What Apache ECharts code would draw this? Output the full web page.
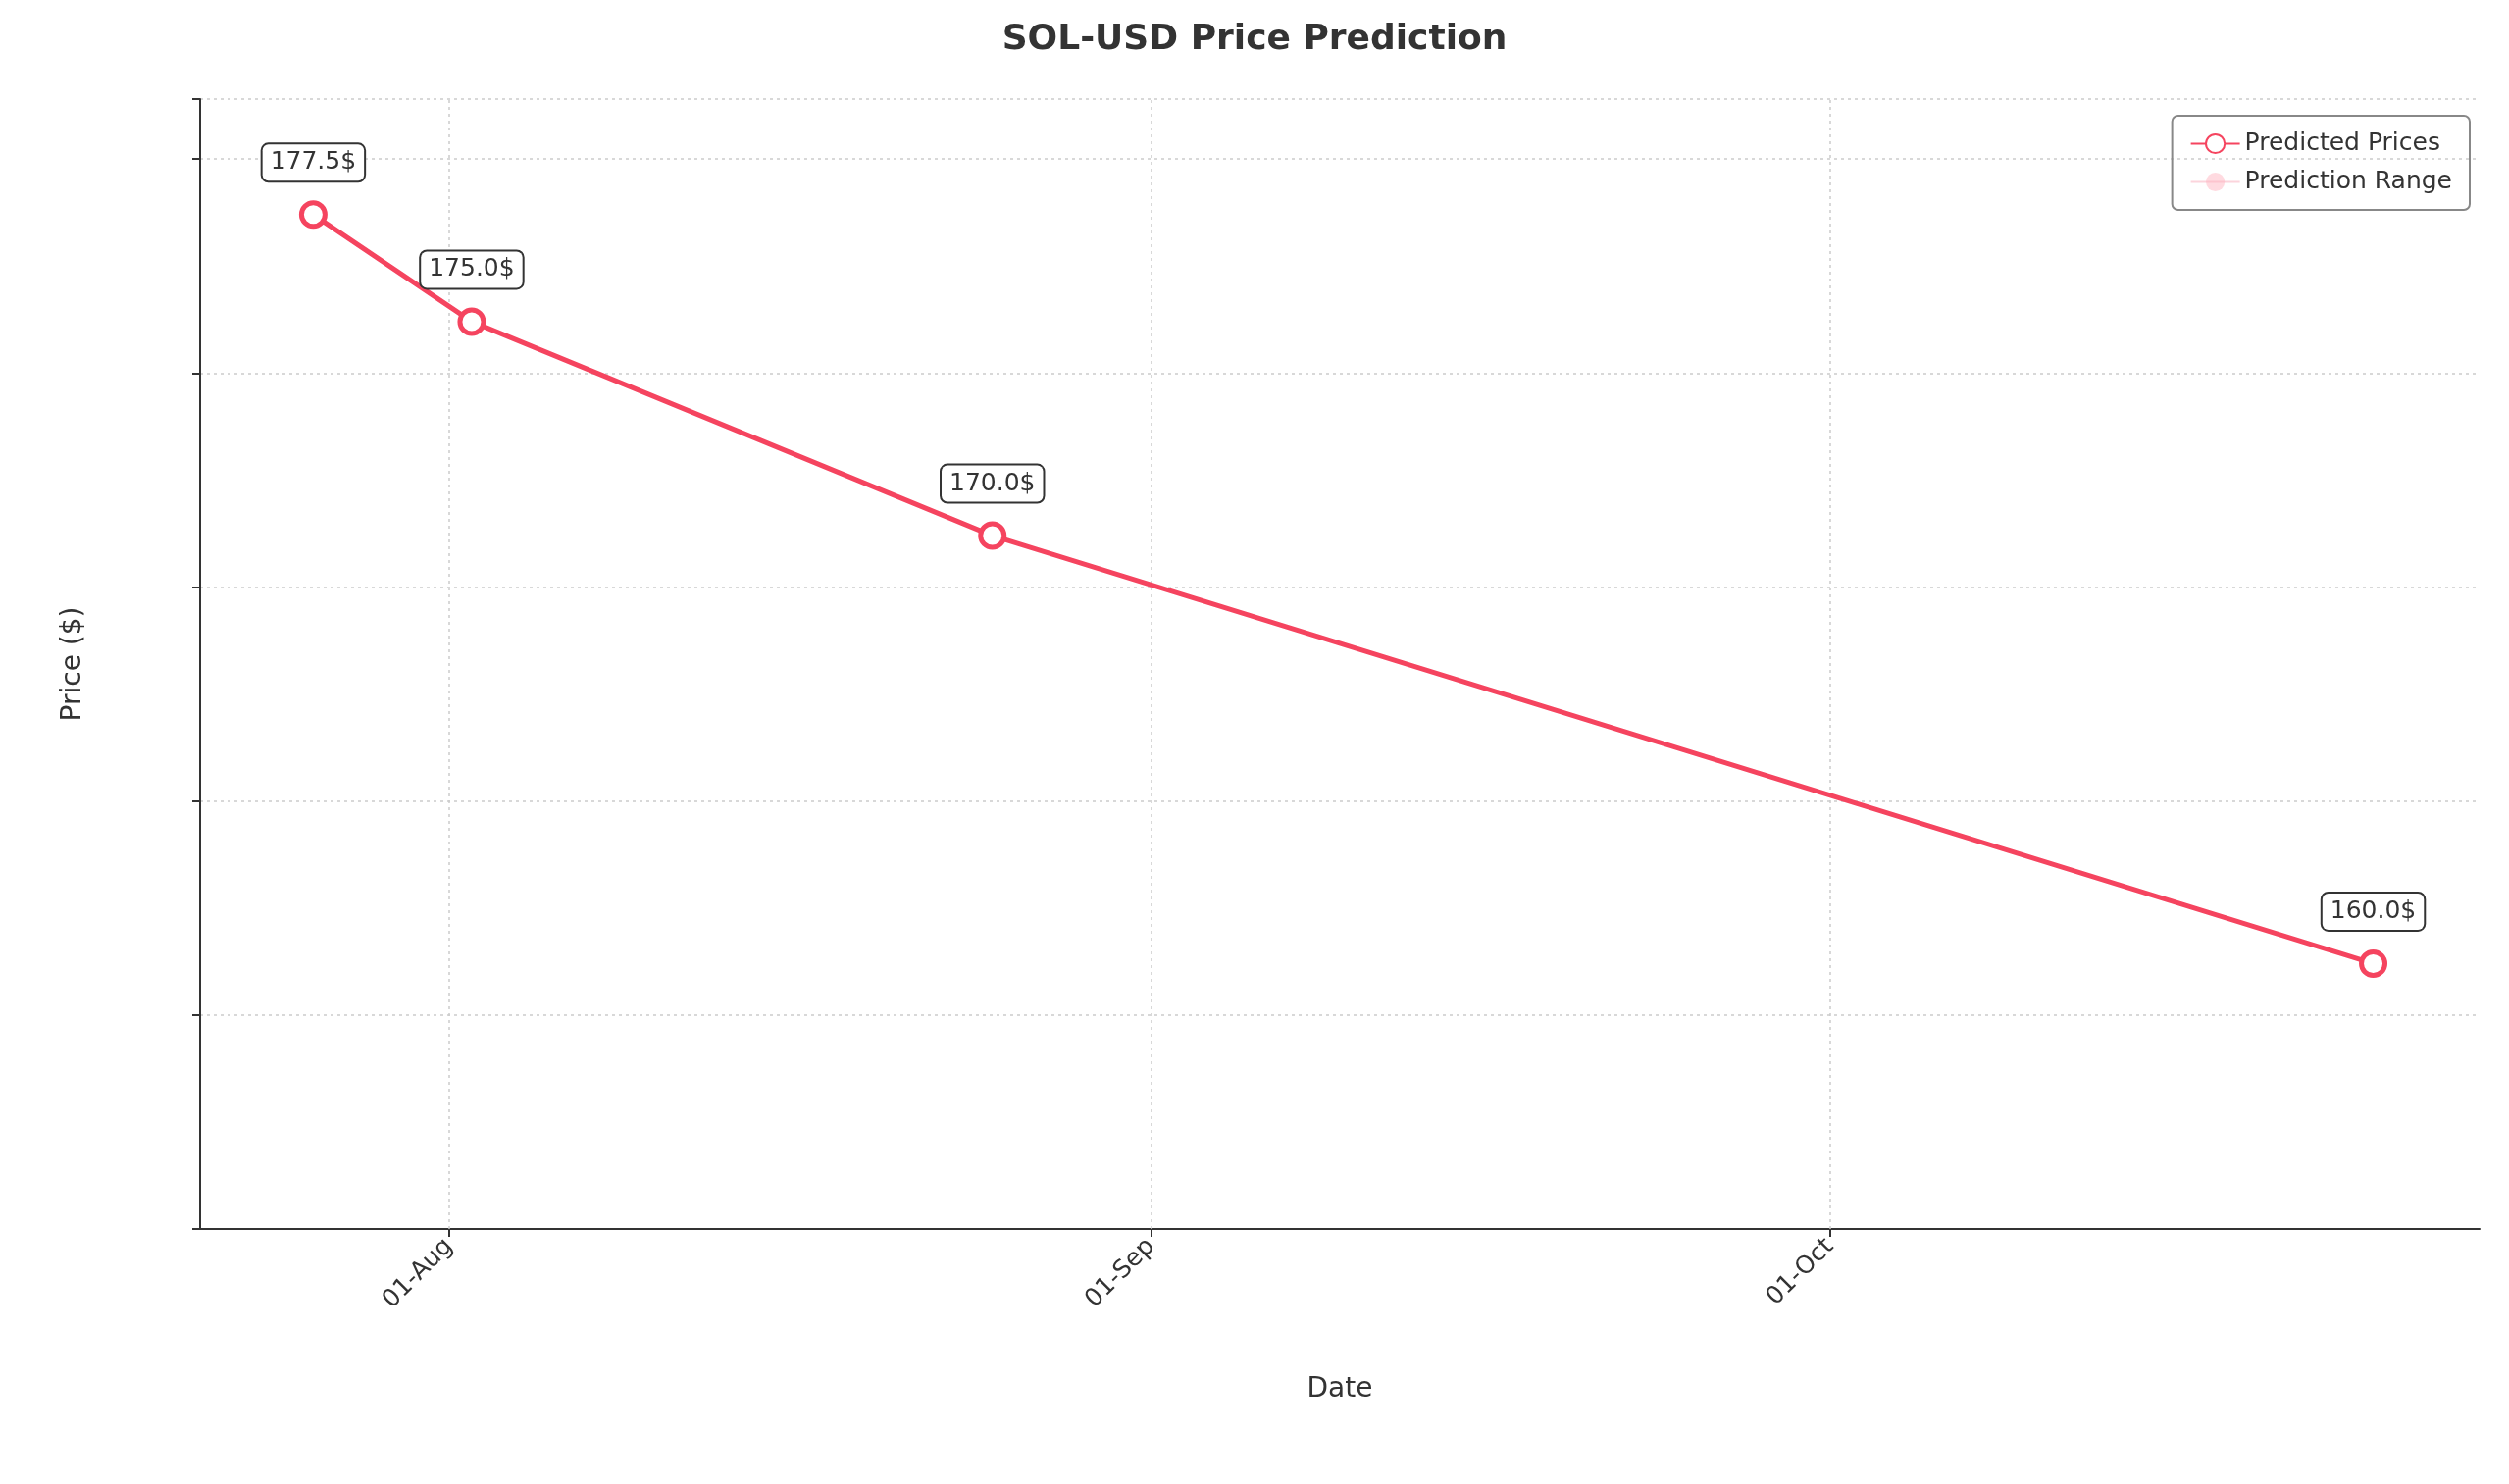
<!DOCTYPE html>
<html><head><meta charset="utf-8">
<script src="https://cdn.jsdelivr.net/npm/echarts@6/dist/echarts.min.js"></script>
<style>html,body{margin:0;padding:0;background:#fff}#c{width:2558px;height:1513px}</style>
</head><body><div id="c"></div>
<script>
const dates = ['2024-07-26','2024-08-02','2024-08-25','2024-10-25'];
const predicted = [177.5, 175.0, 170.0, 160.0];
const lower = [176, 173, 165, 155];
const upper = [178.5, 178, 175, 165];
const tickDates = ['2024-08-01','2024-09-01','2024-10-01'];
const tickLabels = ['01-Aug','01-Sep','01-Oct'];

const base = Date.UTC(2024,6,1);
const day = d => Math.round((new Date(d + 'T00:00:00Z').getTime() - base) / 86400000);
const tickX = tickDates.map(day);
const font = 'DejaVu Sans';
const c = echarts.init(document.getElementById('c'));
c.setOption({
  animation:false,
  textStyle:{fontFamily:font},
  title:{text:'SOL-USD Price Prediction',left:'center',top:18,textStyle:{fontSize:36,fontWeight:'bold',color:'#333',fontFamily:font}},
  legend:{right:40,top:118,orient:'vertical',itemGap:14,borderColor:'#888',borderWidth:2,borderRadius:6,padding:[16,18],
    textStyle:{fontSize:25,color:'#333'},itemWidth:50,itemHeight:24,
    data:['Predicted Prices','Prediction Range']},
  grid:{left:204,right:30,top:101,bottom:260},
  xAxis:{type:'value',min:day('2024-07-21'),max:day('2024-10-29')+0.7,
    name:'Date',nameLocation:'middle',nameGap:150,nameTextStyle:{fontSize:28,color:'#333'},
    axisLine:{lineStyle:{color:'#333',width:2}},
    axisTick:{customValues:tickX,length:8,lineStyle:{color:'#333',width:2}},
    axisLabel:{customValues:tickX,rotate:45,fontSize:25,color:'#333',margin:14,
      formatter:v=>tickLabels[tickX.indexOf(v)]||''},
    splitLine:{show:false}},
  yAxis:{type:'value',min:153.8,max:180.2,interval:5,
    name:'Price ($)',nameLocation:'middle',nameGap:115,nameTextStyle:{fontSize:28,color:'#333'},
    axisLine:{show:true,lineStyle:{color:'#333',width:2}},
    axisTick:{show:true,length:8,lineStyle:{color:'#333',width:2}},
    axisLabel:{fontSize:25,color:'#333',margin:14,formatter:v=>Number.isInteger(v)?String(v):''},
    splitLine:{lineStyle:{color:'#ccc',type:[3,4],width:1.5}}},
  series:[
    {name:'lowerBand',type:'line',stack:'band',data:dates.map((d,i)=>[day(d),lower[i]]),symbol:'none',
     lineStyle:{opacity:0},silent:true,
     markLine:{symbol:'none',silent:true,label:{show:false},lineStyle:{color:'#ccc',type:[3,4],width:1.5},
       data:tickX.map(t=>({xAxis:t}))}},
    {name:'Prediction Range',type:'line',stack:'band',data:dates.map((d,i)=>[day(d),upper[i]-lower[i]]),symbol:'none',
     lineStyle:{color:'rgba(250,170,185,0.5)',width:1.5},itemStyle:{color:'rgba(255,182,193,0.5)'},
     areaStyle:{color:'rgba(255,182,193,0.45)'}},
    {name:'Predicted Prices',type:'line',data:dates.map((d,i)=>[day(d),predicted[i]]),
     symbol:'circle',symbolSize:24,lineStyle:{color:'#f5445f',width:5},
     itemStyle:{color:'#fff',borderColor:'#f5445f',borderWidth:5},
     label:{show:true,position:'top',distance:20,formatter:p=>p.value[1].toFixed(1)+'$',fontSize:25,color:'#333',
       backgroundColor:'#fff',borderColor:'#333',borderWidth:2,borderRadius:6,padding:[6,8]},z:5}
  ]
});
</script></body></html>
